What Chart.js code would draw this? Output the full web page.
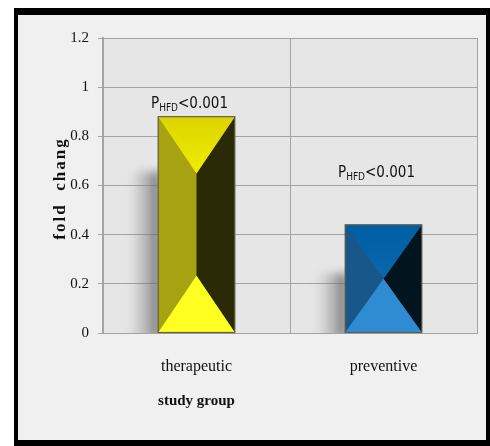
<!DOCTYPE html>
<html>
<head>
<meta charset="utf-8">
<script src="https://cdn.jsdelivr.net/npm/chart.js@4"></script>
<style>
  html, body { margin: 0; padding: 0; background: #ffffff; }
  #frame {
    position: absolute; left: 14px; top: 8px;
    width: 468px; height: 425px;
    border-style: solid; border-color: #000;
    border-width: 7px 4px 6px 4px;
    background: #f0f0f0;
  }
  #wrap { position: absolute; left: 0; top: 0; width: 468px; height: 425px; }
</style>
</head>
<body>
<div id="frame"><div id="wrap"><canvas id="c"></canvas></div></div>
<script>
// Fold change per study group
const categories = ['therapeutic', 'preventive'];
const foldChange = [0.88, 0.44];
const pValueText = ['<0.001', '<0.001'];
const yTicks = [0, 0.2, 0.4, 0.6, 0.8, 1, 1.2];

// face colours of the bevelled bars: top, left, right, bottom
const faces = [
  { top: '#dcd400', topLight: '#f0ec00', left: '#a6a212', right: '#2b2a06', bottom: '#ffff22' },
  { top: '#005ea4', topLight: '#0a66ae', left: '#17578a', right: '#02151f', bottom: '#2f8cd2' }
];

const serif = '"Liberation Serif", "DejaVu Serif", serif';
const narrow = '"Liberation Sans Narrow", "DejaVu Sans Condensed", "Liberation Sans", sans-serif';

const bevelBars = {
  id: 'bevelBars',
  beforeDatasetsDraw(chart) {
    const ctx = chart.ctx;
    const area = chart.chartArea;
    const meta = chart.getDatasetMeta(0);
    ctx.save();
    ctx.beginPath();
    ctx.rect(area.left, area.top, area.right - area.left, area.bottom - area.top);
    ctx.clip();
    meta.data.forEach((bar) => {
      const left = bar.x - bar.width / 2;
      const h = bar.base - bar.y;
      const top = bar.y + Math.min(55, h * 0.45);
      const g = ctx.createLinearGradient(left - 28, 0, left, 0);
      g.addColorStop(0, 'rgba(120,120,120,0)');
      g.addColorStop(0.6, 'rgba(120,120,120,0.45)');
      g.addColorStop(1, 'rgba(90,90,90,0.8)');
      ctx.filter = 'blur(4px)';
      ctx.fillStyle = g;
      ctx.fillRect(left - 28, top, 30, bar.base - top + 6);
      ctx.filter = 'none';
    });
    ctx.restore();
  },
  afterDatasetsDraw(chart) {
    const ctx = chart.ctx;
    const meta = chart.getDatasetMeta(0);
    meta.data.forEach((bar, i) => {
      const f = faces[i];
      const l = bar.x - bar.width / 2, r = bar.x + bar.width / 2;
      const t = bar.y, b = bar.base, cx = bar.x;
      const depth = Math.min((b - t) / 2, bar.width * 0.74);
      const ya = t + depth, yb = b - depth;
      const poly = (pts, fill) => {
        ctx.beginPath();
        ctx.moveTo(pts[0][0], pts[0][1]);
        for (let k = 1; k < pts.length; k++) ctx.lineTo(pts[k][0], pts[k][1]);
        ctx.closePath();
        ctx.fillStyle = fill;
        ctx.fill();
      };
      ctx.save();
      poly([[l, t], [cx, ya], [cx, yb], [l, b]], f.left);
      poly([[r, t], [cx, ya], [cx, yb], [r, b]], f.right);
      const tg = ctx.createLinearGradient(0, t, 0, ya);
      tg.addColorStop(0, f.top);
      tg.addColorStop(1, f.topLight);
      poly([[l, t], [r, t], [cx, ya]], tg);
      poly([[l, b], [r, b], [cx, yb]], f.bottom);
      ctx.strokeStyle = '#5f5f4a';
      ctx.lineWidth = 1.2;
      ctx.strokeRect(l, t, r - l, b - t);
      ctx.restore();
    });
  }
};

// P-value labels, axis titles
const pLabels = {
  id: 'pLabels',
  afterDraw(chart, args, opts) {
    const ctx = chart.ctx;
    const x = chart.scales.x, y = chart.scales.y;
    ctx.save();
    ctx.fillStyle = '#111';
    ctx.textBaseline = 'alphabetic';
    categories.forEach((c, i) => {
      const big = '15px ' + narrow, small = '10px ' + narrow;
      ctx.font = big; const wP = ctx.measureText('P').width;
      const wTail = ctx.measureText(pValueText[i]).width;
      ctx.font = small; const wSub = ctx.measureText('HFD').width;
      const total = wP + wSub + wTail;
      let px = x.getPixelForValue(i) + opts.dx - total / 2;
      const py = y.getPixelForValue(opts.at[i]);
      ctx.textAlign = 'left';
      ctx.font = big; ctx.fillText('P', px, py); px += wP;
      ctx.font = small; ctx.fillText('HFD', px, py + 3); px += wSub;
      ctx.font = big; ctx.fillText(pValueText[i], px, py);
    });

    // group title under the first category
    ctx.font = 'bold 15px ' + serif;
    ctx.textAlign = 'center';
    ctx.fillText('study group', x.getPixelForValue(0), x.bottom - 35);

    // value axis title, rotated
    ctx.translate(y.left + 43, (y.top + y.bottom) / 2 + 3);
    ctx.rotate(-Math.PI / 2);
    ctx.font = 'bold 17px ' + serif;
    ctx.letterSpacing = '2px';
    ctx.textBaseline = 'middle';
    ctx.fillText('fold  chang', 0, 0);
    ctx.restore();
  }
};

new Chart(document.getElementById('c'), {
  type: 'bar',
  data: {
    labels: categories,
    datasets: [{
      data: foldChange,
      backgroundColor: faces.map(f => f.left),
      borderWidth: 0,
      categoryPercentage: 1,
      barPercentage: 0.41
    }]
  },
  options: {
    responsive: true,
    maintainAspectRatio: false,
    animation: false,
    events: [],
    layout: { padding: { left: 0, right: 9, top: 23, bottom: 0 } },
    plugins: {
      legend: { display: false },
      tooltip: { enabled: false },
      pLabels: { at: [0.915, 0.635], dx: -7 }
    },
    scales: {
      x: {
        afterFit(s) { s.height = 107; },
        grid: { color: '#a3a3a3', lineWidth: 1, tickLength: 0, offset: true, drawTicks: false },
        border: { color: '#a3a3a3', width: 1 },
        ticks: { color: '#111', font: { family: serif, size: 16 }, padding: 24 }
      },
      y: {
        min: 0, max: 1.2,
        afterFit(s) { s.width = 85; },
        afterBuildTicks(s) { s.ticks = yTicks.map(v => ({ value: v })); },
        grid: { color: '#a3a3a3', lineWidth: 1, tickLength: 5 },
        border: { color: '#a3a3a3', width: 2 },
        ticks: {
          color: '#111', padding: 9,
          font: { family: serif, size: 15 },
          callback: v => String(v)
        }
      }
    }
  },
  plugins: [
    {
      id: 'plotBg',
      beforeDraw(chart) {
        const a = chart.chartArea, ctx = chart.ctx;
        ctx.save();
        ctx.fillStyle = '#e6e6e6';
        ctx.fillRect(a.left, a.top, a.right - a.left, a.bottom - a.top);
        ctx.restore();
      }
    },
    bevelBars, pLabels
  ]
});
</script>
</body>
</html>
